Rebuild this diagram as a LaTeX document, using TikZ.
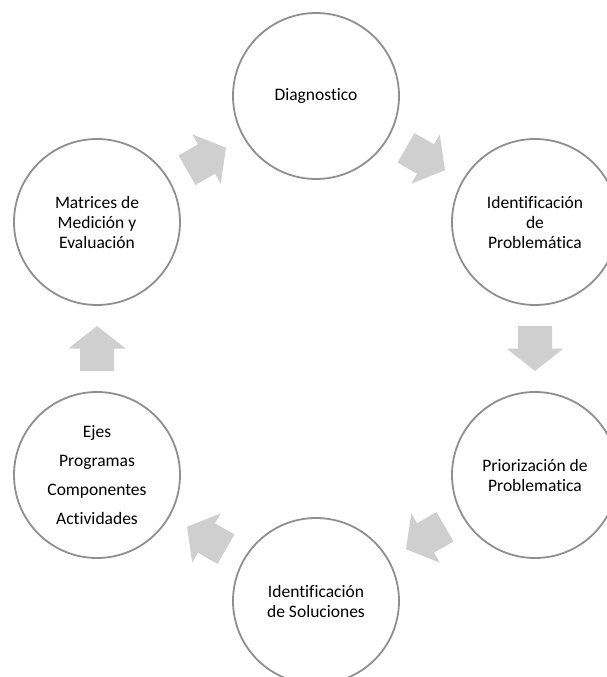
\documentclass[tikz,border=0pt]{standalone}
\usepackage{fontspec}
\setmainfont{Carlito}[Ligatures=CommonOff]
\usetikzlibrary{calc}
\definecolor{ringgray}{HTML}{8F8F8F}
\definecolor{arrowgray}{HTML}{CFCFCF}
\tikzset{
  stage/.style={circle, draw=ringgray, line width=1.8pt, fill=white,
    minimum size=166pt, inner sep=0pt, align=center,
    font=\fontsize{17.5}{20}\selectfont, text=black},
  blockarrow/.style={fill=arrowgray, draw=none}
}
\newcommand{\cyclearrow}[3]{%
  \fill[blockarrow, shift={($(#1)!0.5!(#2)$)}, rotate=#3]
    (-22.5pt,-17pt) -- (0pt,-17pt) -- (0pt,-28.5pt) -- (22.5pt,0pt)
    -- (0pt,28.5pt) -- (0pt,17pt) -- (-22.5pt,17pt) -- cycle;}
\begin{document}
\begin{tikzpicture}[x=1pt,y=-1pt]
\useasboundingbox (0,0) rectangle (607,677);
\node[stage] (diag) at (316,96) {Diagnostico};
\node[stage] (prob) at (535,222) {Identificación\\de\\Problemática};
\node[stage] (prio) at (535,475) {Priorización de\\Problematica};
\node[stage] (sol) at (316,601) {Identificación\\de Soluciones};
\node[stage, font=\fontsize{17.5}{28.7}\selectfont] (ejes) at (97,475) {Ejes\\Programas\\Componentes\\Actividades};
\node[stage] (mat) at (97,222) {Matrices de\\Medición y\\Evaluación};
\cyclearrow{diag}{prob}{-30}
\cyclearrow{prob}{prio}{-90}
\cyclearrow{prio}{sol}{210}
\cyclearrow{sol}{ejes}{150}
\cyclearrow{ejes}{mat}{90}
\cyclearrow{mat}{diag}{30}
\end{tikzpicture}
\end{document}
